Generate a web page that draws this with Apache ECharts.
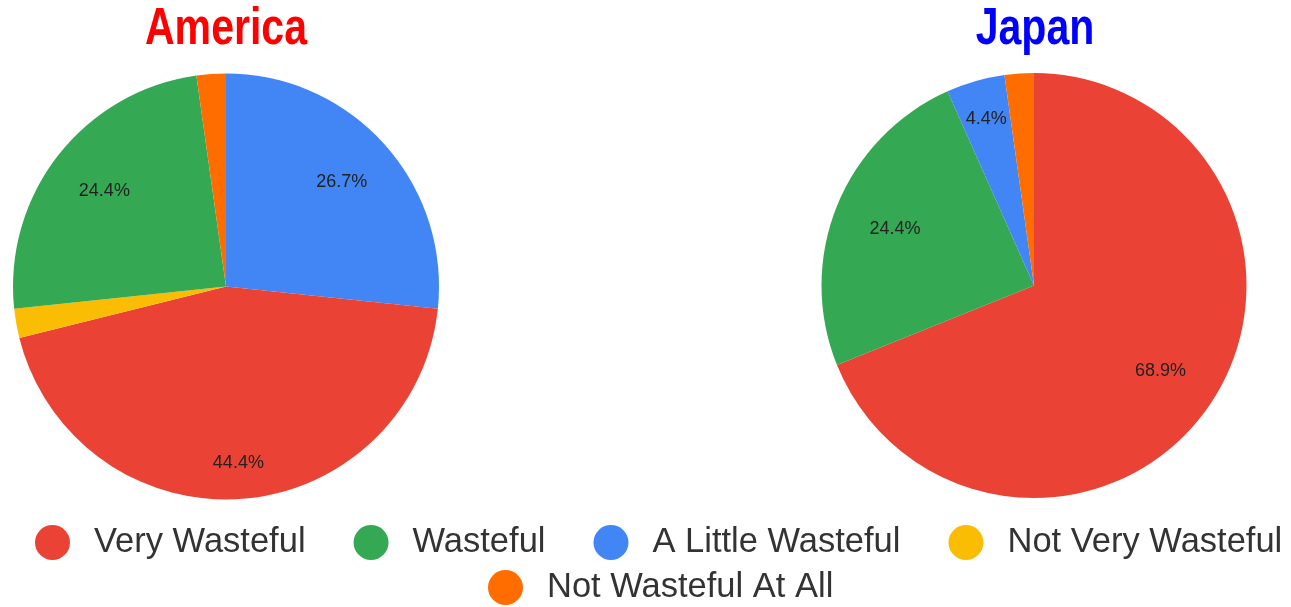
<!DOCTYPE html>
<html>
<head>
<meta charset="utf-8">
<script src="https://cdn.jsdelivr.net/npm/echarts@6/dist/echarts.min.js"></script>
<style>
  html, body { margin: 0; padding: 0; background: #ffffff; }
  #chart { width: 1291px; height: 607px; }
</style>
</head>
<body>
<div id="chart"></div>
<script>
// ---- Data (counts of 45 respondents, read from the percentages) ----
const legendRow1 = ['Very Wasteful', 'Wasteful', 'A Little Wasteful', 'Not Very Wasteful'];
const legendRow2 = ['Not Wasteful At All'];

// America: slice order clockwise from 12 o'clock as drawn
const americaNames  = ['A Little Wasteful', 'Very Wasteful', 'Not Very Wasteful', 'Wasteful', 'Not Wasteful At All'];
const americaValues = [12, 20, 1, 11, 1];

// Japan: slice order clockwise from 12 o'clock as drawn
const japanNames  = ['Very Wasteful', 'Wasteful', 'A Little Wasteful', 'Not Wasteful At All'];
const japanValues = [31, 11, 2, 1];

const titles = ['America', 'Japan'];

// ---- Styles ----
const colorMap = {
  'Very Wasteful': '#EA4335',
  'Wasteful': '#34A853',
  'A Little Wasteful': '#4285F4',
  'Not Very Wasteful': '#FBBC04',
  'Not Wasteful At All': '#FF6D01'
};
const bodyFont = "'Liberation Sans', Arial, sans-serif";
const labelFontSize = 18;

function buildData(names, values) {
  return names.map((n, i) => ({
    name: n,
    value: values[i],
    itemStyle: { color: colorMap[n] }
  }));
}

function pieSeries(names, values, center, R) {
  const total = values.reduce((a, b) => a + b, 0);
  const farR = R * 0.86;   // label box outer edge sits at this radius
  return {
    type: 'pie',
    center: center,
    radius: [0, R],
    startAngle: 90,
    clockwise: true,
    avoidLabelOverlap: false,
    label: {
      show: true,
      position: 'inside',
      formatter: p => {
        const pct = p.value / total * 100;
        return pct < 3 ? '' : pct.toFixed(1) + '%';
      },
      color: '#222222',
      fontSize: labelFontSize,
      fontFamily: bodyFont
    },
    labelLine: { show: false },
    labelLayout: function (params) {
      const r = params.labelRect;
      if (!r || !r.width) return {};
      const mx = r.x + r.width / 2, my = r.y + r.height / 2;
      let ux = mx - center[0], uy = my - center[1];
      const len = Math.sqrt(ux * ux + uy * uy) || 1;
      ux /= len; uy /= len;
      const cx = Math.sign(ux) * r.width / 2 * 1.37;
      const uc = ux * cx;
      const d = -uc + Math.sqrt(uc * uc - cx * cx + farR * farR);
      return { x: center[0] + ux * d, y: center[1] + uy * d };
    },
    itemStyle: { borderWidth: 0 },
    emphasis: { disabled: true },
    data: buildData(names, values)
  };
}

const legendCommon = {
  orient: 'horizontal',
  icon: 'circle',
  itemWidth: 35,
  itemHeight: 35,
  itemGap: 48,
  padding: 0,
  selectedMode: false,
  textStyle: {
    fontSize: 34.5,
    color: '#333333',
    fontFamily: bodyFont,
    padding: [0, 0, 0, 19]
  }
};

function titleText(text, x, color) {
  return {
    type: 'text',
    x: x,
    y: 30,
    scaleX: 0.79,
    style: {
      text: text,
      fill: color,
      font: "bold 52px 'Liberation Sans', Arial, sans-serif",
      textAlign: 'center',
      textVerticalAlign: 'middle'
    }
  };
}

const chart = echarts.init(document.getElementById('chart'), null, { renderer: 'canvas' });
chart.setOption({
  backgroundColor: '#ffffff',
  animation: false,
  graphic: [
    titleText(titles[0], 226, '#ff0000'),
    titleText(titles[1], 1035, '#0000ff')
  ],
  legend: [
    Object.assign({}, legendCommon, { data: legendRow1, left: 35, top: 525 }),
    Object.assign({}, legendCommon, { data: legendRow2, left: 488, top: 570 })
  ],
  series: [
    pieSeries(americaNames, americaValues, [226, 286.5], 213),
    pieSeries(japanNames, japanValues, [1034, 285.5], 212.5)
  ]
});
</script>
</body>
</html>
